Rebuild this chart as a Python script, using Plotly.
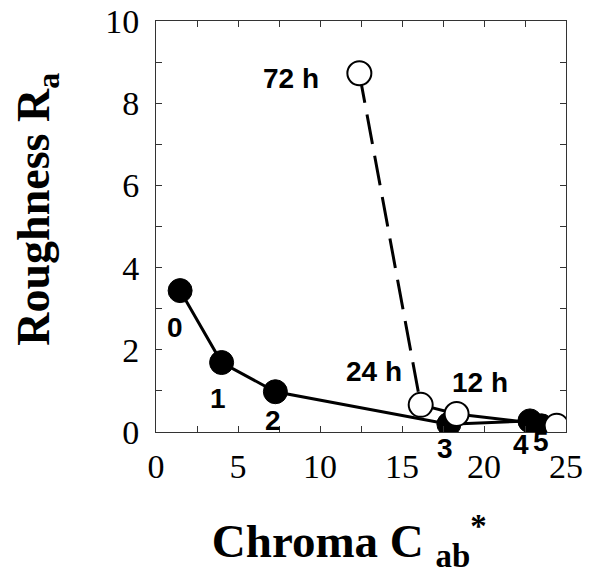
import plotly.graph_objects as go

# Filled series (0..5)
filled_x = [1.47, 4.0, 7.28, 17.86, 22.8, 23.5]
filled_y = [3.44, 1.69, 0.98, 0.19, 0.27, 0.15]
filled_labels = ["0", "1", "2", "3", "4", "5"]

# Open series (72 h, 24 h, 12 h, end)
open_x = [12.4, 16.14, 18.33, 24.43]
open_y = [8.73, 0.66, 0.44, 0.15]
open_labels = ["72 h", "24 h", "12 h", ""]

# label offsets in pixels (dx, dy)
filled_off = [(-5, -37), (-4, -36), (-2, -29), (-4, -24), (-9, -24), (0, -16)]
open_off = [(-68, -5), (-47, 33), (23, 31), (0, 0)]

fig = go.Figure()
fig.add_trace(go.Scatter(x=filled_x, y=filled_y, mode="lines",
                         line=dict(color="black", width=3), showlegend=False))
fig.add_trace(go.Scatter(x=open_x[:2], y=open_y[:2], mode="lines",
                         line=dict(color="black", width=3, dash="30px,12px"), showlegend=False))
fig.add_trace(go.Scatter(x=open_x[1:], y=open_y[1:], mode="lines",
                         line=dict(color="black", width=3), showlegend=False))
fig.add_trace(go.Scatter(x=filled_x, y=filled_y, mode="markers",
                         marker=dict(color="black", size=24, line=dict(color="black", width=1)),
                         showlegend=False))
fig.add_trace(go.Scatter(x=open_x, y=open_y, mode="markers",
                         marker=dict(color="white", size=24, line=dict(color="black", width=2)),
                         showlegend=False))

lab_font = dict(family="Liberation Sans, Arial", size=28, color="black")
for x, y, t, (dx, dy) in zip(filled_x, filled_y, filled_labels, filled_off):
    fig.add_annotation(x=x, y=y, text="<b>%s</b>" % t, showarrow=False,
                       xshift=dx, yshift=dy, font=lab_font)
for x, y, t, (dx, dy) in zip(open_x, open_y, open_labels, open_off):
    if t:
        fig.add_annotation(x=x, y=y, text="<b>%s</b>" % t, showarrow=False,
                           xshift=dx, yshift=dy, font=lab_font)

serif = "Liberation Serif, Times New Roman, serif"
fig.update_layout(
    width=596, height=579,
    margin=dict(l=148, r=38, t=13, b=155),
    plot_bgcolor="white", paper_bgcolor="white",
    font=dict(family=serif, size=34, color="black"),
)
fig.update_xaxes(range=[0, 25], dtick=5, tick0=0, showgrid=False, zeroline=False,
                 automargin=False, ticklabeloverflow="allow",
                 showline=True, linecolor="#333", linewidth=1, mirror="ticks",
                 ticks="inside", ticklen=6, tickcolor="#333",
                 minor=dict(dtick=2.5, ticks="inside", ticklen=6, tickcolor="#333"),
                 tickfont=dict(family=serif, size=34), ticklabelstandoff=4,
                 title=dict(text="<b>Chroma C <sub>ab</sub><sup>*</sup></b>&nbsp;&nbsp;",
                            font=dict(family=serif, size=47), standoff=40))
fig.update_yaxes(range=[0, 10], dtick=2, tick0=0, showgrid=False, zeroline=False,
                 automargin=False, ticklabeloverflow="allow",
                 showline=True, linecolor="#333", linewidth=1, mirror="ticks",
                 ticks="inside", ticklen=6, tickcolor="#333",
                 minor=dict(dtick=1, ticks="inside", ticklen=6, tickcolor="#333"),
                 tickfont=dict(family=serif, size=34), ticklabelstandoff=9,
                 title=dict(text="&nbsp;&nbsp;&nbsp;<b>Roughness R<sub>a</sub></b>",
                            font=dict(family=serif, size=46), standoff=50))
fig.write_html("out.html")
